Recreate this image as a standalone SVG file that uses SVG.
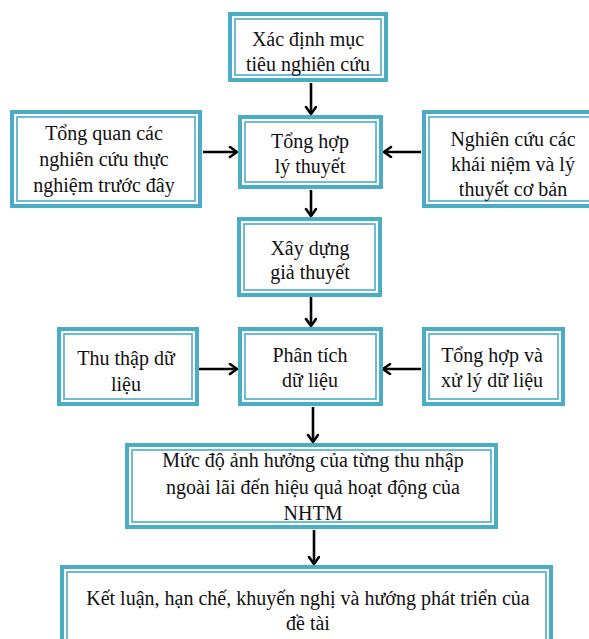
<svg xmlns="http://www.w3.org/2000/svg" width="589" height="639" viewBox="0 0 589 639">
  <defs>
    <style>
      .outer { fill: #ffffff; stroke: #4bacc6; stroke-width: 4; }
      .inner { fill: none; stroke: #4bacc6; stroke-width: 1.6; }
      .lbl { font-family: "Liberation Serif", "DejaVu Serif Condensed", "DejaVu Serif", serif; font-size: 20px; fill: #111111; text-anchor: middle; }
      .conn { stroke: #000000; stroke-width: 2.6; fill: none; marker-end: url(#arrow); }
    </style>
    <marker id="arrow" markerUnits="userSpaceOnUse" markerWidth="14" markerHeight="14" refX="9" refY="6" orient="auto">
      <path d="M2,1 L9,6 L2,11" fill="none" stroke="#000000" stroke-width="2.6" stroke-linecap="round" stroke-linejoin="round"/>
    </marker>
  </defs>

  <rect width="589" height="639" fill="#ffffff"/>

  <!-- connectors -->
  <g id="connectors">
    <line class="conn" x1="311" y1="83" x2="311" y2="114"/>
    <line class="conn" x1="203" y1="152" x2="237" y2="152"/>
    <line class="conn" x1="421" y1="152" x2="384" y2="152"/>
    <line class="conn" x1="311" y1="190" x2="311" y2="216"/>
    <line class="conn" x1="311" y1="297" x2="311" y2="326"/>
    <line class="conn" x1="199" y1="369" x2="237" y2="369"/>
    <line class="conn" x1="421" y1="369" x2="383" y2="369"/>
    <line class="conn" x1="313" y1="407" x2="313" y2="442"/>
    <line class="conn" x1="314" y1="530" x2="314" y2="564"/>
  </g>

  <!-- nodes -->
  <g id="n-muc-tieu">
    <rect class="outer" x="230" y="14" width="156" height="66"/>
    <rect class="inner" x="235" y="19" width="146" height="56"/>
    <text class="lbl" x="308" y="46">Xác định mục</text>
    <text class="lbl" x="308" y="71">tiêu nghiên cứu</text>
  </g>

  <g id="n-tong-quan">
    <rect class="outer" x="12" y="112" width="188" height="94"/>
    <rect class="inner" x="17" y="117" width="178" height="84"/>
    <text class="lbl" x="104" y="140">Tổng quan các</text>
    <text class="lbl" x="104" y="166">nghiên cứu thực</text>
    <text class="lbl" x="104" y="192">nghiệm trước đây</text>
  </g>

  <g id="n-ly-thuyet">
    <rect class="outer" x="240" y="117" width="141" height="70"/>
    <rect class="inner" x="245" y="122" width="131" height="60"/>
    <text class="lbl" x="310" y="148">Tổng hợp</text>
    <text class="lbl" x="310" y="173">lý thuyết</text>
  </g>

  <g id="n-khai-niem">
    <rect class="outer" x="424" y="112" width="172" height="94"/>
    <rect class="inner" x="429" y="117" width="162" height="84"/>
    <text class="lbl" x="513" y="146">Nghiên cứu các</text>
    <text class="lbl" x="513" y="171">khái niệm và lý</text>
    <text class="lbl" x="513" y="196">thuyết cơ bản</text>
  </g>

  <g id="n-gia-thuyet">
    <rect class="outer" x="239" y="219" width="141" height="76"/>
    <rect class="inner" x="244" y="224" width="131" height="66"/>
    <text class="lbl" x="310" y="255">Xây dựng</text>
    <text class="lbl" x="310" y="279">giả thuyết</text>
  </g>

  <g id="n-thu-thap">
    <rect class="outer" x="59" y="329" width="138" height="75"/>
    <rect class="inner" x="64" y="334" width="128" height="65"/>
    <text class="lbl" x="126" y="365">Thu thập dữ</text>
    <text class="lbl" x="126" y="391">liệu</text>
  </g>

  <g id="n-phan-tich">
    <rect class="outer" x="240" y="329" width="141" height="75"/>
    <rect class="inner" x="245" y="334" width="131" height="65"/>
    <text class="lbl" x="310" y="362">Phân tích</text>
    <text class="lbl" x="310" y="387">dữ liệu</text>
  </g>

  <g id="n-xu-ly">
    <rect class="outer" x="424" y="329" width="139" height="75"/>
    <rect class="inner" x="429" y="334" width="129" height="65"/>
    <text class="lbl" x="492" y="362">Tổng hợp và</text>
    <text class="lbl" x="492" y="387">xử lý dữ liệu</text>
  </g>

  <g id="n-muc-do">
    <rect class="outer" x="127" y="445" width="369" height="82"/>
    <rect class="inner" x="132" y="450" width="359" height="72"/>
    <text class="lbl" x="313" y="467">Mức độ ảnh hưởng của từng thu nhập</text>
    <text class="lbl" x="313" y="494">ngoài lãi đến hiệu quả hoạt động của</text>
    <text class="lbl" x="313" y="520">NHTM</text>
  </g>

  <g id="n-ket-luan">
    <rect class="outer" x="62" y="567" width="489" height="90"/>
    <rect class="inner" x="67" y="572" width="479" height="80"/>
    <text class="lbl" x="308" y="605">Kết luận, hạn chế, khuyến nghị và hướng phát triển của</text>
    <text class="lbl" x="308" y="630">đề tài</text>
  </g>
</svg>
